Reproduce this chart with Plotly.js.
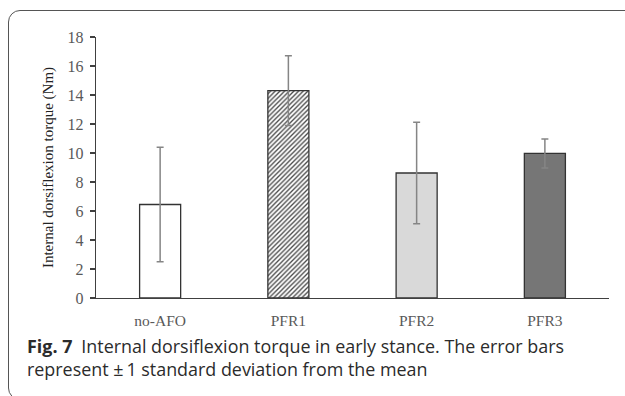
<!DOCTYPE html>
<html>
<head>
<meta charset="utf-8">
<script src="https://cdn.plot.ly/plotly-3.0.1.min.js"></script>
<style>
  html, body { margin: 0; padding: 0; background: #fff; overflow: hidden; }
  #wrap { position: relative; width: 625px; height: 396px; overflow: hidden; }
  #frame { position: absolute; left: 8px; top: 10px; width: 700px; height: 390px;
           border: 1.5px solid #555; border-radius: 12px; box-sizing: border-box; }
  #chart { position: absolute; left: 0; top: 0; width: 625px; height: 396px; }
</style>
</head>
<body>
<div id="wrap">
  <div id="frame"></div>
  <div id="chart"></div>
</div>
<script>
const categories = ['no-AFO', 'PFR1', 'PFR2', 'PFR3'];
const means = [6.45, 14.3, 8.62, 9.97];
const sds = [3.95, 2.4, 3.5, 1.0];
const barColors = ['#ffffff', '#ffffff', '#d9d9d9', '#767676'];
const patterns = ['', '/', '', ''];
const yTicks = [0, 2, 4, 6, 8, 10, 12, 14, 16, 18];
const yTitle = 'Internal dorsiflexion torque (Nm)';
const captionBold = 'Fig. 7';
const captionLine1 = 'Internal dorsiflexion torque in early stance. The error bars';
const captionLine2 = 'represent \u00b1\u20091 standard deviation from the mean';

// one trace per bar so that the hatched bar gets its own pattern
const traces = categories.map((c, i) => ({
  type: 'bar',
  x: [c],
  y: [means[i]],
  width: 0.32,
  marker: Object.assign({
    color: barColors[i],
    line: { color: '#333333', width: 1.3 }
  }, patterns[i] ? {
    pattern: { shape: patterns[i], fillmode: 'replace', fgcolor: '#4a4a4a', bgcolor: barColors[i], size: 3.3, solidity: 0.4 }
  } : {}),
  error_y: { type: 'data', array: [sds[i]], visible: true, color: '#858585', thickness: 1.5, width: 3.5 },
  hoverinfo: 'none'
}));

const W = 625, H = 396;
const m = { l: 96, r: 16, t: 37, b: 98 };
const pw = W - m.l - m.r, ph = H - m.t - m.b;
function px2paperX(px) { return (px - m.l) / pw; }
function px2paperY(py) { return (H - m.b - py) / ph; }

const layout = {
  width: W, height: H,
  margin: m,
  paper_bgcolor: 'rgba(0,0,0,0)',
  plot_bgcolor: 'rgba(0,0,0,0)',
  showlegend: false,
  barmode: 'overlay',
  xaxis: {
    type: 'category',
    categoryorder: 'array', categoryarray: categories,
    range: [-0.5, 3.5],
    showline: true, linecolor: '#404040', linewidth: 1.3,
    ticks: '', showgrid: false, zeroline: false,
    tickfont: { family: 'Liberation Serif', size: 15.5, color: '#595959' },
    ticklabelstandoff: 8
  },
  yaxis: {
    range: [0, 18],
    tickvals: yTicks,
    showline: true, linecolor: '#404040', linewidth: 1.3,
    ticks: 'outside', ticklen: 5, tickcolor: '#404040', tickwidth: 1.3,
    showgrid: false, zeroline: false,
    tickfont: { family: 'Liberation Serif', size: 16, color: '#595959' },
    ticklabelstandoff: 3,
    title: { text: yTitle, font: { family: 'Liberation Serif', size: 15, color: '#222222' }, standoff: 10 }
  },
  annotations: [
    {
      xref: 'paper', yref: 'paper',
      x: px2paperX(25), y: px2paperY(332),
      xanchor: 'left', yanchor: 'top', align: 'left',
      showarrow: false,
      text: '<b>' + captionBold + '</b>\u2002' + captionLine1 + '<br>' + captionLine2,
      font: { family: 'Open Sans', size: 17.9, color: '#2b2b2b' }
    }
  ]
};

Plotly.newPlot('chart', traces, layout, { staticPlot: true, displayModeBar: false });
</script>
</body>
</html>
